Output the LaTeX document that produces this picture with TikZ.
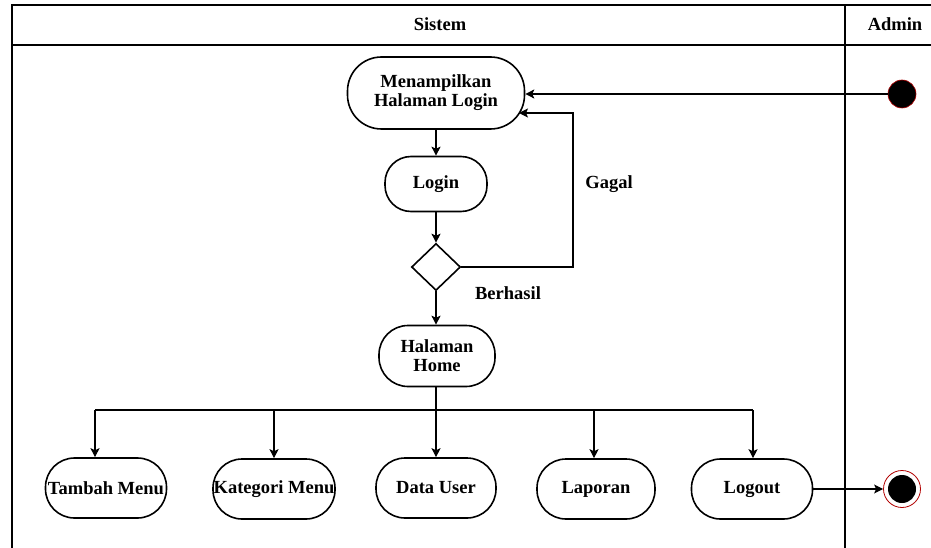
\documentclass[tikz,border=0pt]{standalone}
\usepackage{fontspec}
\setmainfont{Liberation Serif}
\usetikzlibrary{arrows.meta,shapes.geometric}
\begin{document}
\begin{tikzpicture}[x=1pt,y=-1pt,
  font=\fontsize{18.5}{21}\selectfont\bfseries,
  lane/.style={line width=1.6pt},
  act/.style={draw,line width=1.6pt,rectangle,inner sep=0pt,align=center},
  flow/.style={line width=1.1pt,-{Stealth[length=9pt,width=9pt,inset=2pt]}},
  plain/.style={line width=1.1pt},
  dot/.style={circle,fill=black,draw=red!70!black,line width=0.6pt,minimum size=28pt,inner sep=0pt}
]
\useasboundingbox (0,0) rectangle (931,548);
\fill[white] (0,0) rectangle (931,548);

% swimlane frame
\draw[lane] (12,548) -- (12,5) -- (931,5);
\draw[lane] (12,45) -- (931,45);
\draw[lane,line width=1.3pt] (845,5) -- (845,548);
\node (hsis) at (440,24) {Sistem};
\node (hadm) at (895,24) {Admin};

% activities
\node[act,minimum width=177pt,minimum height=72pt,rounded corners=34pt] (menu) at (436,93) {Menampilkan\\[-2pt]Halaman Login};
\node[act,minimum width=102pt,minimum height=55pt,rounded corners=26pt] (login) at (436,184) {Login};
\node[draw,line width=1.6pt,diamond,minimum width=49pt,minimum height=47pt,inner sep=0pt] (dec) at (436,267) {};
\node[act,minimum width=116pt,minimum height=61pt,rounded corners=29pt] (home) at (437,356) {Halaman\\[-2pt]Home};

\node[act,minimum width=121pt,minimum height=60pt,rounded corners=29pt] (tambah) at (106,488) {Tambah Menu};
\node[act,minimum width=122pt,minimum height=60pt,rounded corners=29pt] (kat) at (274,489) {Kategori Menu};
\node[act,minimum width=120pt,minimum height=60pt,rounded corners=29pt] (data) at (436,488) {Data User};
\node[act,minimum width=118pt,minimum height=60pt,rounded corners=29pt] (lap) at (596,489) {Laporan};
\node[act,minimum width=121pt,minimum height=60pt,rounded corners=29pt] (logout) at (752,489) {Logout};

% start / end
\node[dot] (start) at (902,94) {};
\node[circle,draw=red!70!black,line width=0.8pt,fill=white,minimum size=37pt,inner sep=0pt] (end) at (902,489) {};
\node[circle,fill=black,minimum size=28pt,inner sep=0pt] (endin) at (end) {};

% labels
\node (gagal) at (609,184) {Gagal};
\node (berhasil) at (508,293) {Berhasil};

% connectors
\coordinate (gx) at (573,113);
\coordinate (gin) at (519,113);
\coordinate (bl) at (95,410);
\coordinate (br) at (753,410);
\coordinate (bl4) at (594,410);

\draw[flow] (start.west) -- (menu.east |- start.west);
\draw[flow] (menu.south) -- (login.north);
\draw[flow] (login.south) -- (dec.north);
\draw[flow] (dec.east) -| (gx) -- (gin);
\draw[flow] (dec.south) -- (dec.south |- home.north);
\draw[plain] (dec.south |- home.south) -- (dec.south |- bl);
\draw[plain] (bl) -- (br);
\draw[flow] (bl) -- (bl |- tambah.north);
\draw[flow] (kat.north |- bl) -- (kat.north);
\draw[flow] (data.north |- bl) -- (data.north);
\draw[flow] (bl4) -- (bl4 |- lap.north);
\draw[flow] (br) -- (br |- logout.north);
\draw[flow] (logout.east) -- (end.west |- logout.east);
\end{tikzpicture}
\end{document}
